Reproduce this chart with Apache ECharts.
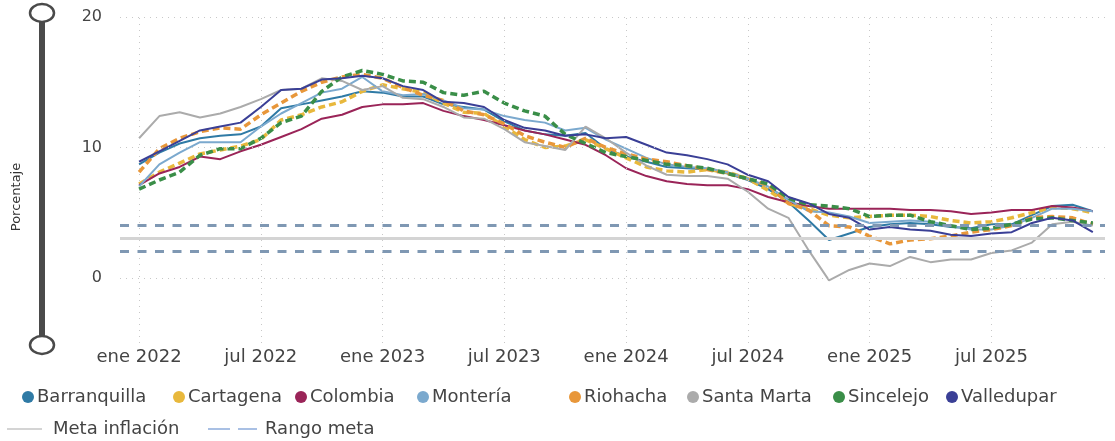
<!DOCTYPE html>
<html>
<head>
<meta charset="utf-8">
<script src="https://cdn.jsdelivr.net/npm/echarts@6/dist/echarts.min.js"></script>
<style>
  html, body { margin: 0; padding: 0; background: #fff; }
  #main { width: 1115px; height: 441px; }
</style>
</head>
<body>
<div id="main"></div>
<script>
var monthNames = ['ene', 'feb', 'mar', 'abr', 'may', 'jun', 'jul', 'ago', 'sep', 'oct', 'nov', 'dic'];
var years = [2022, 2023, 2024, 2025];
var periods = [];
years.forEach(function (y) {
    monthNames.forEach(function (m) { periods.push(m + ' ' + y); });
});

var xTickLabels = ['ene 2022', 'jul 2022', 'ene 2023', 'jul 2023', 'ene 2024', 'jul 2024', 'ene 2025', 'jul 2025'];
var yTickLabels = [0, 10, 20];

var barranquilla = [8.7, 9.6, 10.3, 10.7, 10.9, 11.0, 11.6, 13.0, 13.3, 13.6, 13.9, 14.3, 14.2, 13.9, 13.9, 13.3, 13.1, 12.9, 12.0, 11.3, 11.0, 10.9, 11.1, 9.9,
    9.3, 8.9, 8.5, 8.4, 8.3, 8.0, 7.5, 6.8, 5.8, 4.4, 2.9, 3.4, 3.9, 4.1, 4.2, 4.1, 3.9, 3.8, 4.1, 4.1, 4.8, 5.5, 5.6, 5.1];
var cartagena = [7.2, 8.1, 8.8, 9.5, 9.8, 10.1, 10.6, 12.1, 12.5, 13.1, 13.5, 14.3, 14.8, 14.5, 14.2, 13.4, 12.7, 12.6, 11.6, 10.6, 10.0, 10.1, 10.6, 9.9,
    9.2, 8.5, 8.2, 8.1, 8.3, 8.1, 7.6, 6.7, 5.7, 5.3, 4.8, 4.6, 4.7, 4.8, 4.8, 4.7, 4.4, 4.2, 4.3, 4.6, 5.0, 5.4, 5.3, 5.0];
var colombia = [7.1, 8.0, 8.5, 9.3, 9.1, 9.7, 10.2, 10.8, 11.4, 12.2, 12.5, 13.1, 13.3, 13.3, 13.4, 12.8, 12.4, 12.1, 11.7, 11.3, 11.0, 10.6, 10.2, 9.4,
    8.4, 7.8, 7.4, 7.2, 7.1, 7.1, 6.8, 6.2, 5.8, 5.5, 5.3, 5.3, 5.3, 5.3, 5.2, 5.2, 5.1, 4.9, 5.0, 5.2, 5.2, 5.5, 5.4, 5.1];
var monteria = [7.0, 8.7, 9.6, 10.4, 10.4, 10.4, 11.6, 12.6, 13.4, 14.2, 14.5, 15.4, 14.3, 14.0, 14.1, 13.6, 13.0, 12.9, 12.4, 12.1, 11.9, 11.3, 11.5, 10.6,
    9.9, 9.2, 8.7, 8.5, 8.4, 8.1, 7.6, 7.0, 6.0, 5.1, 5.0, 4.7, 4.2, 4.3, 4.4, 4.3, 4.0, 3.7, 3.7, 4.0, 4.6, 5.3, 5.3, 5.1];
var riohacha = [8.1, 9.9, 10.7, 11.2, 11.5, 11.4, 12.5, 13.4, 14.3, 15.0, 15.4, 15.6, 15.3, 14.6, 14.0, 13.6, 12.8, 12.5, 11.8, 10.9, 10.4, 10.0, 10.7, 10.0,
    9.5, 9.1, 8.9, 8.6, 8.3, 8.0, 7.6, 7.1, 5.7, 5.2, 4.0, 3.9, 3.2, 2.6, 2.9, 3.0, 3.2, 3.5, 3.7, 4.0, 4.6, 4.7, 4.6, 4.1];
var santaMarta = [10.7, 12.4, 12.7, 12.3, 12.6, 13.1, 13.7, 14.4, 14.5, 15.3, 15.1, 14.4, 14.7, 13.8, 13.7, 13.1, 12.3, 12.2, 11.4, 10.4, 10.1, 9.8, 11.6, 10.7,
    9.6, 8.6, 7.9, 7.8, 7.8, 7.6, 6.6, 5.3, 4.6, 2.1, -0.2, 0.6, 1.1, 0.9, 1.6, 1.2, 1.4, 1.4, 1.9, 2.1, 2.7, 4.1, 4.3, 4.0];
var sincelejo = [6.8, 7.5, 8.1, 9.4, 9.9, 9.9, 10.7, 11.9, 12.4, 14.3, 15.4, 15.9, 15.6, 15.1, 15.0, 14.2, 14.0, 14.3, 13.4, 12.8, 12.4, 11.0, 10.3, 9.6,
    9.3, 9.0, 8.7, 8.6, 8.4, 8.0, 7.6, 7.2, 6.1, 5.6, 5.5, 5.3, 4.7, 4.8, 4.8, 4.3, 4.0, 3.7, 3.8, 4.1, 4.5, 4.6, 4.4, 4.2];
var valledupar = [8.9, 9.7, 10.5, 11.3, 11.6, 11.9, 13.1, 14.4, 14.5, 15.2, 15.3, 15.5, 15.3, 14.7, 14.4, 13.5, 13.4, 13.1, 12.1, 11.5, 11.3, 10.9, 11.0, 10.7,
    10.8, 10.2, 9.6, 9.4, 9.1, 8.7, 7.9, 7.4, 6.2, 5.7, 4.9, 4.6, 3.7, 3.9, 3.7, 3.6, 3.3, 3.2, 3.4, 3.5, 4.2, 4.6, 4.4, 3.5];

var metaInflacion = 3;
var rangoMeta = [2, 4];

var cities = [
    { name: 'Barranquilla', data: barranquilla, color: '#2F7AA5', dashed: false },
    { name: 'Cartagena', data: cartagena, color: '#E8B83C', dashed: true },
    { name: 'Colombia', data: colombia, color: '#9A2458', dashed: false },
    { name: 'Montería', data: monteria, color: '#7BA9CE', dashed: false },
    { name: 'Riohacha', data: riohacha, color: '#E8973A', dashed: true },
    { name: 'Santa Marta', data: santaMarta, color: '#ABABAB', dashed: false },
    { name: 'Sincelejo', data: sincelejo, color: '#3A8E48', dashed: true },
    { name: 'Valledupar', data: valledupar, color: '#3A3F96', dashed: false }
];

var fontFam = "'DejaVu Sans', 'Open Sans', sans-serif";
var xTicks = xTickLabels.map(function (l) { return periods.indexOf(l); });

var myChart = echarts.init(document.getElementById('main'));

var series = [];
// gridlines drawn as marklines so they sit on the half-year ticks
series.push({
    name: 'grid',
    type: 'line',
    data: [],
    z: 1,
    silent: true,
    markLine: {
        silent: true,
        symbol: 'none',
        label: { show: false },
        lineStyle: { color: '#C8C8C8', type: [1, 5], width: 1 },
        data: xTicks.map(function (t) { return { xAxis: t }; })
            .concat(yTickLabels.map(function (t) { return { yAxis: t }; }))
    }
});
series.push({
    name: 'Meta inflación',
    type: 'line',
    data: [],
    color: '#D4D4D4',
    z: 2,
    markLine: {
        silent: true,
        symbol: 'none',
        label: { show: false },
        lineStyle: { color: '#D4D4D4', type: 'solid', width: 3 },
        data: [{ yAxis: metaInflacion }]
    }
});
series.push({
    name: 'Rango meta',
    type: 'line',
    data: [],
    color: '#A9C0E4',
    z: 2,
    markLine: {
        silent: true,
        symbol: 'none',
        label: { show: false },
        lineStyle: { color: '#7F98B3', type: [9, 8.5], width: 3 },
        data: rangoMeta.map(function (v) { return { yAxis: v }; })
    }
});
cities.forEach(function (c) {
    series.push({
        name: c.name,
        type: 'line',
        color: c.color,
        symbol: 'none',
        z: 3,
        lineStyle: c.dashed ? { width: 3.5, type: [7, 4] } : { width: 2 },
        data: c.data.map(function (v, i) { return [i, v]; })
    });
});

// legend: one small legend per city so each swatch sits where the original has it
var legendLeft = [22, 173, 295, 417, 569, 687, 833, 946];
var legends = cities.map(function (c, k) {
    return {
        data: [c.name],
        icon: 'circle',
        itemWidth: 12,
        itemHeight: 12,
        left: legendLeft[k],
        top: 388,
        padding: 0,
        textStyle: { color: '#444', fontSize: 18, padding: [0, 0, 0, -2] }
    };
});
legends.push({
    data: [{ name: 'Meta inflación', icon: 'rect', itemStyle: { color: '#D4D4D4' } }],
    itemWidth: 35,
    itemHeight: 2,
    left: 7,
    top: 420,
    padding: 0,
    textStyle: { color: '#444', fontSize: 18, padding: [0, 0, 0, 6] }
});
legends.push({
    data: [{ name: 'Rango meta', icon: 'path://M0,0h22v2h-22z M30,0h19v2h-19z', itemStyle: { color: '#A9C0E4' } }],
    itemWidth: 49,
    itemHeight: 2,
    left: 208,
    top: 420,
    padding: 0,
    textStyle: { color: '#444', fontSize: 18, padding: [0, 0, 0, 3] }
});

var option = {
    animation: false,
    textStyle: { fontFamily: fontFam },
    grid: { left: 120, right: 10, top: 17, bottom: 98 },
    xAxis: {
        type: 'value',
        min: -0.94,
        max: 47.6,
        axisLine: { show: false },
        axisTick: { show: false },
        splitLine: { show: false },
        axisLabel: {
            customValues: xTicks,
            color: '#444',
            fontSize: 18,
            margin: 5,
            formatter: function (v) { return periods[Math.round(v)]; }
        }
    },
    yAxis: {
        type: 'value',
        min: -5,
        max: 20,
        axisLine: { show: false },
        axisTick: { show: false },
        splitLine: { show: false },
        axisLabel: {
            customValues: yTickLabels,
            color: '#444',
            fontSize: 16,
            margin: 18
        }
    },
    legend: legends,
    graphic: [
        { type: 'rect', shape: { x: 39, y: 17, width: 6, height: 328 }, style: { fill: '#4A4A4A' } },
        { type: 'ellipse', shape: { cx: 42, cy: 13, rx: 12, ry: 9 }, style: { fill: '#fff', stroke: '#4A4A4A', lineWidth: 2.5 } },
        { type: 'ellipse', shape: { cx: 42, cy: 345, rx: 12, ry: 9 }, style: { fill: '#fff', stroke: '#4A4A4A', lineWidth: 2.5 } },
        {
            type: 'text', x: 17, y: 197, rotation: Math.PI / 2,
            style: { text: 'Porcentaje', fill: '#333', font: '13px ' + fontFam, align: 'center', verticalAlign: 'middle' }
        }
    ],
    series: series
};

myChart.setOption(option);
</script>
</body>
</html>
